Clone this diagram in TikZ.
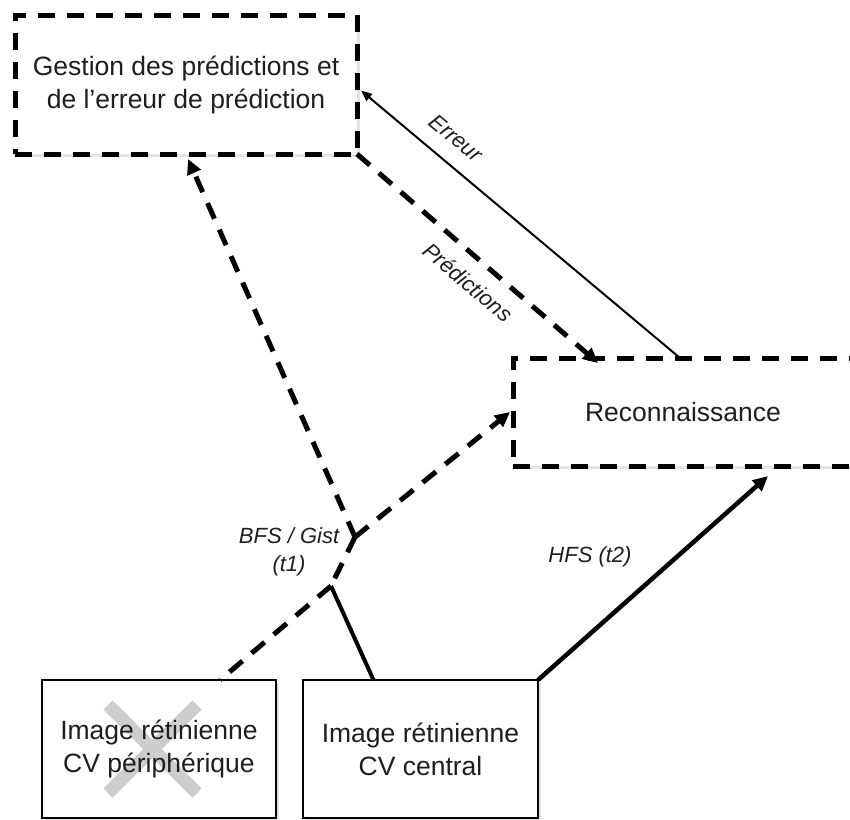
\documentclass[tikz,border=0pt]{standalone}
\usepackage{fontspec}
\setmainfont{Liberation Sans}
\usetikzlibrary{arrows.meta,calc,shadows}
\definecolor{txt}{RGB}{30,30,30}
\definecolor{xgray}{RGB}{205,205,205}
\tikzset{
  dashbox/.style={draw=black, line width=5pt, dash pattern=on 17pt off 12pt, fill=white, outer sep=0pt,
    drop shadow={shadow xshift=2.5pt, shadow yshift=-2.5pt, opacity=0.22}, text=txt, align=center,
    font=\fontsize{26.5}{33}\selectfont},
  solidbox/.style={draw=black, line width=2.7pt, fill=white, outer sep=0pt,
    drop shadow={shadow xshift=2.5pt, shadow yshift=-2.5pt, opacity=0.22}},
  boxtext/.style={text=txt, align=center, font=\fontsize{26.5}{33}\selectfont},
  lbl/.style={text=txt, align=center, font=\fontsize{22}{28.5}\selectfont\itshape},
  dasharrow/.style={line width=5pt, dash pattern=on 17pt off 12pt},
  bigtip/.style={-{Triangle[length=15pt,width=14pt]}},
  thintip/.style={-{Triangle[length=11pt,width=9pt]}},
}
\begin{document}
\begin{tikzpicture}[x=1pt,y=-1pt]
\useasboundingbox (0,0) rectangle (850,819);
\clip (0,0) rectangle (850,819);
% boxes
\node[dashbox, minimum width=342pt, minimum height=139pt] (gest) at (186,84.5)
  {Gestion des prédictions et\\de l’erreur de prédiction};
\node[dashbox, minimum width=340pt, minimum height=108pt] (recon) at (683,412) {Reconnaissance};
\node[solidbox, minimum width=234pt, minimum height=138pt] (periph) at (159,749) {};
\node[solidbox, minimum width=235pt, minimum height=138pt] (central) at (420.5,749) {};
% grey cross
\draw[xgray, line width=13pt] (108,705) -- (197,793) (197,705) -- (108,793);
\node[boxtext] (periphtxt) at (periph.center) {Image rétinienne\\CV périphérique};
\node[boxtext] (centraltxt) at (central.center) {Image rétinienne\\CV central};
% junctions
\coordinate (J2) at (355,537);
\coordinate (J1) at (331,586);
% connectors
\draw[dasharrow] (J1) -- ([xshift=61pt]periph.north);
\draw[line width=4pt] (J1) -- ([xshift=-47pt]central.north);
\draw[dasharrow] (J2) -- (J1);
\draw[dasharrow, bigtip] (J2) -- ([yshift=-5pt]$(gest.south west)!0.506!(gest.south east)$);
\draw[dasharrow, bigtip] (J2) -- ([xshift=-3pt]recon.west);
\draw[dasharrow, bigtip] (gest.south east) -- ([xshift=-85pt,yshift=-5pt]recon.north);
\draw[line width=2pt, thintip] ([xshift=-3pt]recon.north) -- ([xshift=4pt,yshift=-6pt]gest.east);
\draw[line width=4.5pt, bigtip] (central.north east) -- ([xshift=85pt,yshift=-10pt]recon.south);
% labels
\node[lbl, rotate=-40] (erreur) at (456,138) {Erreur};
\node[lbl, rotate=-40] (predlbl) at (468,282) {Prédictions};
\node[lbl] (bfs) at (289,552) {BFS / Gist\\(t1)};
\node[lbl] (hfs) at (590,557) {HFS (t2)};
\end{tikzpicture}
\end{document}
